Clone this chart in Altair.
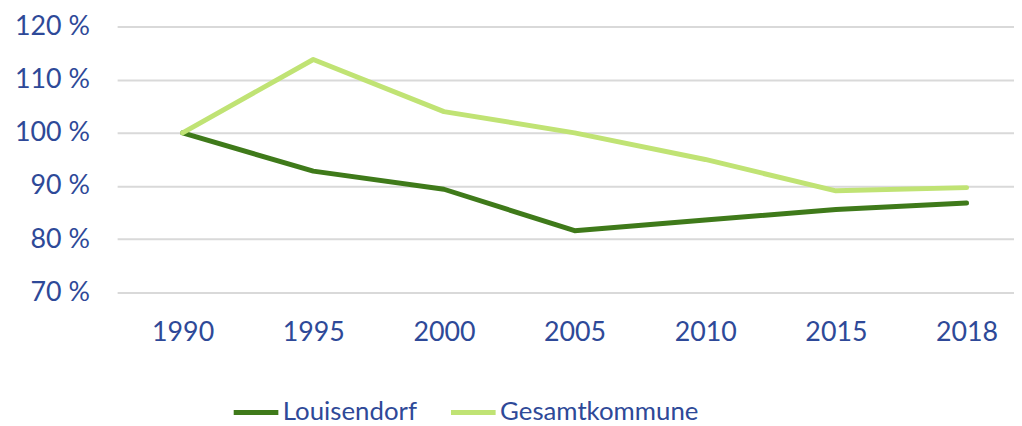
import altair as alt
import pandas as pd

years = ["1990", "1995", "2000", "2005", "2010", "2015", "2018"]
louisendorf = [100.0, 92.8, 89.4, 81.6, 83.6, 85.6, 86.8]
gesamtkommune = [100.0, 113.8, 104.0, 100.0, 95.0, 89.1, 89.7]
series_names = ["Louisendorf", "Gesamtkommune"]
colors = ["#3F7A1A", "#C0E374"]

rows = []
for name, vals in zip(series_names, [louisendorf, gesamtkommune]):
    for y, v in zip(years, vals):
        rows.append({"Jahr": y, "Wert": v, "Reihe": name})
df = pd.DataFrame(rows)

FONT = "Lato"
TXT = "#2E4998"

chart = alt.Chart(df).mark_line(strokeWidth=5, strokeCap="round", strokeJoin="round").encode(
    x=alt.X("Jahr:O", sort=years, title=None,
            scale=alt.Scale(type="point", padding=0.432, align=0.58),
            axis=alt.Axis(labelAngle=0, domain=False, ticks=False, grid=False,
                          labelPadding=27, labelFontSize=27, labelFont=FONT,
                          labelColor=TXT)),
    y=alt.Y("Wert:Q", title=None,
            scale=alt.Scale(domain=[70, 120], nice=False, zero=False),
            axis=alt.Axis(values=[70, 80, 90, 100, 110, 120], labelExpr="datum.value + ' %'",
                          domain=False, ticks=False, gridColor="#D9D9D9", gridWidth=2,
                          labelPadding=28, labelFontSize=27, labelFont=FONT,
                          labelColor=TXT, minExtent=110, maxExtent=110)),
    color=alt.Color("Reihe:N", sort=series_names, title=None,
                    scale=alt.Scale(domain=series_names, range=colors),
                    legend=alt.Legend(orient="none", legendX=115, legendY=364,
                                      direction="horizontal", symbolType="stroke",
                                      symbolSize=2025, symbolStrokeWidth=5,
                                      labelFontSize=26, labelFont=FONT, labelColor=TXT,
                                      labelOffset=2, columnPadding=23, labelLimit=0)),
).properties(
    width=904, height=268, background="white",
    padding={"left": 0, "top": 3, "right": 0, "bottom": 0},
).configure_view(
    stroke=None, strokeWidth=0
)

chart.save("out.html", embed_options={"renderer": "svg", "actions": False})
